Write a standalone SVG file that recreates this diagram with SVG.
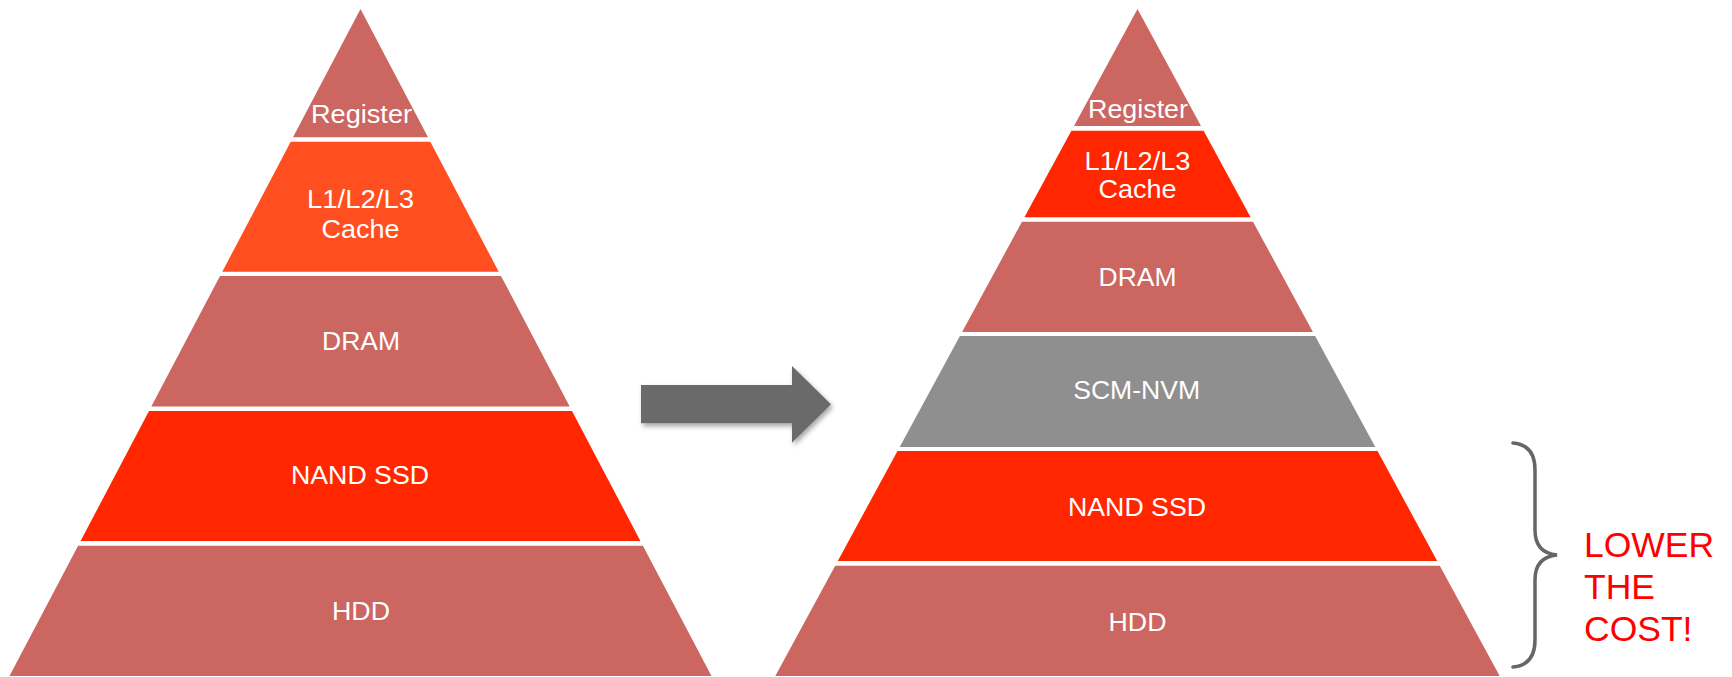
<svg xmlns="http://www.w3.org/2000/svg" width="1732" height="677" viewBox="0 0 1732 677">
<style>
.muted{fill:#CC6660}
.orange{fill:#FF4E1F}
.red{fill:#FF2600}
.gray{fill:#8F8F8F}
.lbl{font-family:"Liberation Sans",Arial,sans-serif;font-size:25px;fill:#FFFFFF;text-anchor:middle}
.cost{font-family:"Liberation Sans",Arial,sans-serif;font-size:35.5px;fill:#FF0000}
</style>
<defs>
<filter id="sh" x="-20%" y="-30%" width="140%" height="160%">
<feDropShadow dx="2" dy="3" stdDeviation="2.5" flood-color="#000" flood-opacity="0.35"/>
</filter>
</defs>
<rect width="1732" height="677" fill="#FFFFFF"/>

<g id="left-pyramid">
<g id="l-register"><polygon class="muted" points="360.5,9 428,137.3 293,137.3"/><text class="lbl" x="361.5" y="123" textLength="101" lengthAdjust="spacingAndGlyphs">Register</text></g>
<g id="l-cache"><polygon class="orange" points="290.7,141.7 430.3,141.7 498.7,271.7 222.3,271.7"/><text class="lbl" x="360.5" y="208.3" textLength="107" lengthAdjust="spacingAndGlyphs">L1/L2/L3</text><text class="lbl" x="360.5" y="238" textLength="78" lengthAdjust="spacingAndGlyphs">Cache</text></g>
<g id="l-dram"><polygon class="muted" points="220,276 501,276 569.7,406.5 151.3,406.5"/><text class="lbl" x="361" y="350" textLength="78" lengthAdjust="spacingAndGlyphs">DRAM</text></g>
<g id="l-nand"><polygon class="red" points="149,411 572,411 640.4,541 80.6,541"/><text class="lbl" x="360" y="484.3" textLength="138" lengthAdjust="spacingAndGlyphs">NAND SSD</text></g>
<g id="l-hdd"><polygon class="muted" points="78.1,545.7 642.9,545.7 711.5,676 9.5,676"/><text class="lbl" x="361" y="620" textLength="58" lengthAdjust="spacingAndGlyphs">HDD</text></g>
</g>

<g id="connectors">
<polygon id="arrow" fill="#6B6B6B" filter="url(#sh)" points="641,385 792,385 792,366 831,404.3 792,442.7 792,423.3 641,423.3"/>
<path id="brace" d="M1513,443 Q1535,445 1535,470 L1535,530 Q1535,553 1557,555 Q1535,557 1535,580 L1535,640 Q1535,665 1513,667" fill="none" stroke="#666666" stroke-width="3.5" stroke-linecap="round"/>
</g>

<g id="right-pyramid">
<g id="r-register"><polygon class="muted" points="1137.5,9 1201,126 1074,126"/><text class="lbl" x="1138" y="118.3" textLength="100" lengthAdjust="spacingAndGlyphs">Register</text></g>
<g id="r-cache"><polygon class="red" points="1071.4,130.7 1203.6,130.7 1250.6,217.3 1024.4,217.3"/><text class="lbl" x="1137.5" y="170" textLength="106" lengthAdjust="spacingAndGlyphs">L1/L2/L3</text><text class="lbl" x="1137.5" y="198.3" textLength="78" lengthAdjust="spacingAndGlyphs">Cache</text></g>
<g id="r-dram"><polygon class="muted" points="1022,221.7 1253,221.7 1312.9,332 962.1,332"/><text class="lbl" x="1137.5" y="286" textLength="78" lengthAdjust="spacingAndGlyphs">DRAM</text></g>
<g id="r-scm"><polygon class="gray" points="959.9,336 1315.1,336 1375.3,447 899.7,447"/><text class="lbl" x="1136.7" y="399.3" textLength="127" lengthAdjust="spacingAndGlyphs">SCM-NVM</text></g>
<g id="r-nand"><polygon class="red" points="897.5,451 1377.5,451 1437.2,561 837.8,561"/><text class="lbl" x="1137" y="516" textLength="138" lengthAdjust="spacingAndGlyphs">NAND SSD</text></g>
<g id="r-hdd"><polygon class="muted" points="835.2,565.7 1439.8,565.7 1499.7,676 775.3,676"/><text class="lbl" x="1137.5" y="630.7" textLength="58" lengthAdjust="spacingAndGlyphs">HDD</text></g>
</g>

<g id="cost-note">
<text class="cost" x="1584" y="557">LOWER</text>
<text class="cost" x="1584" y="599">THE</text>
<text class="cost" x="1584" y="641">COST!</text>
</g>
</svg>
